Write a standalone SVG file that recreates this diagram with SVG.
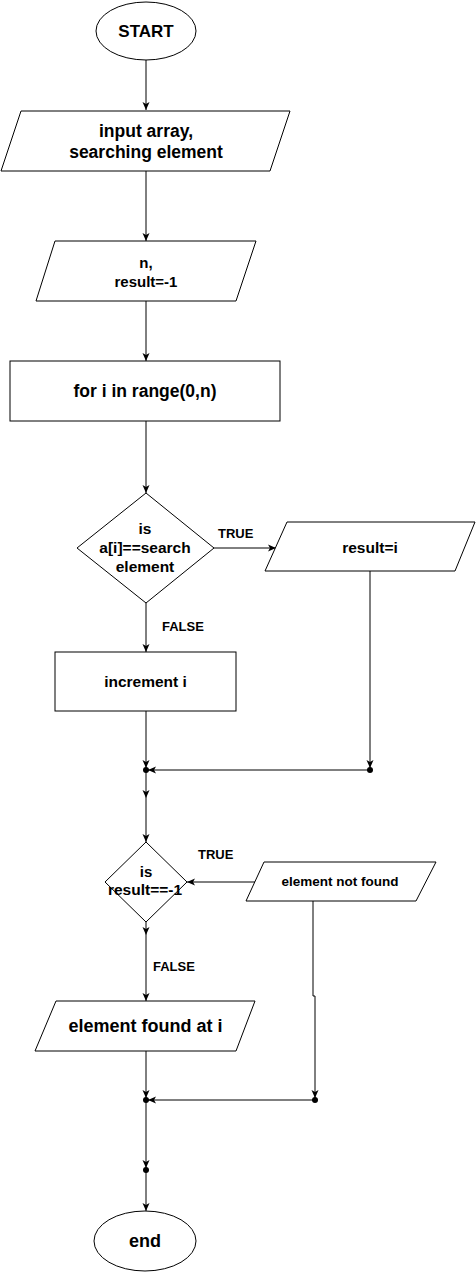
<svg xmlns="http://www.w3.org/2000/svg" width="476" height="1272" viewBox="0 0 476 1272">
<defs>
<marker id="arr" markerWidth="9" markerHeight="8" refX="8" refY="4" orient="auto" markerUnits="userSpaceOnUse"><path d="M0,0.5 L8,4 L0,7.5 L2,4 z" fill="#000"/></marker>
<style>
.s{fill:#fff;stroke:#000;stroke-width:1}
.c{fill:none;stroke:#000;stroke-width:1}
.a{marker-end:url(#arr)}
.t{font-family:"Liberation Sans",Arial,sans-serif;font-weight:bold;fill:#000;text-anchor:middle}
.l{font-family:"Liberation Sans",Arial,sans-serif;font-weight:bold;fill:#000;font-size:13px}
.d{fill:#000}
</style>
</defs>
<rect width="476" height="1272" fill="#fff"/>
<g id="connectors">
<line class="c a" x1="146" y1="60" x2="146" y2="110"/>
<line class="c a" x1="146" y1="171" x2="146" y2="241"/>
<line class="c a" x1="146" y1="301" x2="146" y2="361"/>
<line class="c a" x1="146" y1="421" x2="146" y2="493"/>
<line class="c a" x1="214" y1="548" x2="276" y2="548"/>
<line class="c a" x1="146" y1="603" x2="146" y2="652"/>
<line class="c a" x1="370" y1="571" x2="370" y2="768"/>
<circle class="d" cx="370" cy="770" r="3"/>
<line class="c a" x1="370" y1="770" x2="148" y2="770"/>
<line class="c a" x1="146" y1="711" x2="146" y2="768"/>
<circle class="d" cx="146" cy="770" r="3"/>
<line class="c a" x1="146" y1="772" x2="146" y2="798"/>
<line class="c a" x1="146" y1="798" x2="146" y2="842"/>
<line class="c a" x1="255" y1="882" x2="187" y2="882"/>
<line class="c a" x1="146" y1="922" x2="146" y2="935"/>
<line class="c a" x1="146" y1="935" x2="146" y2="1001"/>
<path class="c a" d="M313,901 V996 H315 V1098"/>
<circle class="d" cx="315" cy="1100" r="3"/>
<line class="c a" x1="315" y1="1100" x2="148" y2="1100"/>
<line class="c a" x1="146" y1="1051" x2="146" y2="1098"/>
<circle class="d" cx="146" cy="1100" r="3"/>
<line class="c a" x1="146" y1="1102" x2="146" y2="1168"/>
<circle class="d" cx="146" cy="1170" r="3"/>
<line class="c a" x1="146" y1="1172" x2="146" y2="1211"/>
<text class="l" x="218" y="538">TRUE</text>
<text class="l" x="162" y="631">FALSE</text>
<text class="l" x="198" y="859">TRUE</text>
<text class="l" x="153" y="971">FALSE</text>
</g>
<g id="start">
<ellipse class="s" cx="146" cy="31" rx="50" ry="29"/>
<text class="t" x="146" y="37" font-size="17">START</text>
</g>
<g id="input">
<polygon class="s" points="21,111 290,111 270,171 1,171"/>
<text class="t" x="146" y="137" font-size="17.5">input array,</text>
<text class="t" x="146" y="158" font-size="17.5">searching element</text>
</g>
<g id="init">
<polygon class="s" points="55,241 256,241 236,301 36,301"/>
<text class="t" x="146" y="268" font-size="15">n,</text>
<text class="t" x="146" y="287" font-size="15">result=-1</text>
</g>
<g id="loop">
<rect class="s" x="10" y="361" width="270" height="60"/>
<text class="t" x="145" y="397" font-size="17.5">for i in range(0,n)</text>
</g>
<g id="check">
<polygon class="s" points="146,493 214,548 146,603 77,548"/>
<text class="t" x="145" y="534" font-size="15.5">is</text>
<text class="t" x="145" y="553" font-size="15.5">a[i]==search</text>
<text class="t" x="145" y="572" font-size="15.5">element</text>
</g>
<g id="assign">
<polygon class="s" points="287,522 475,522 455,571 265,571"/>
<text class="t" x="370" y="553" font-size="15.5">result=i</text>
</g>
<g id="increment">
<rect class="s" x="55" y="652" width="181" height="59"/>
<text class="t" x="145.5" y="687" font-size="15.5">increment i</text>
</g>
<g id="check2">
<polygon class="s" points="146,842 187,882 146,922 105,882"/>
<text class="t" x="146" y="877" font-size="15">is</text>
<text class="t" x="145" y="895" font-size="15.5">result==-1</text>
</g>
<g id="notfound">
<polygon class="s" points="264,862 436,862 416,901 246,901"/>
<text class="t" x="340" y="886" font-size="13.5">element not found</text>
</g>
<g id="found">
<polygon class="s" points="56,1001 255,1001 236,1051 35,1051"/>
<text class="t" x="145.5" y="1032" font-size="18">element found at i</text>
</g>
<g id="end">
<ellipse class="s" cx="145" cy="1241" rx="51" ry="30"/>
<text class="t" x="145" y="1247" font-size="18">end</text>
</g>
</svg>
